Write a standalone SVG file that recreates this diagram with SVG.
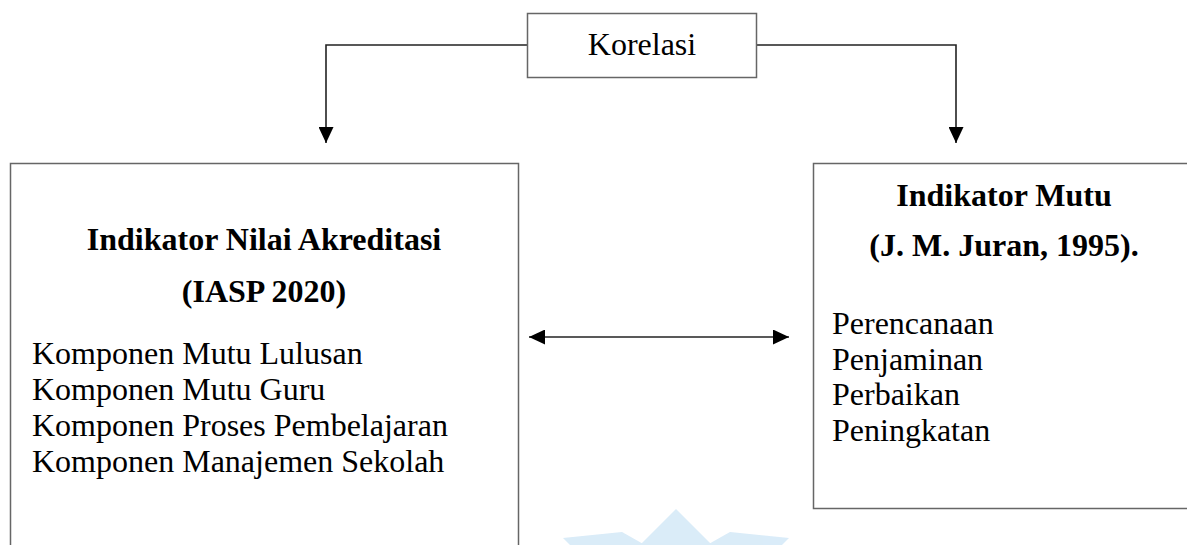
<svg xmlns="http://www.w3.org/2000/svg" width="1187" height="545" viewBox="0 0 1187 545">
<style>
  text { font-family: "Liberation Serif", "Times New Roman", serif; font-size: 32px; fill: #000; }
  .b { font-weight: bold; }
  .c { text-anchor: middle; }
  .box { fill: #fff; stroke: #666; stroke-width: 1.5; }
  .conn { fill: none; stroke: #222; stroke-width: 1.6; }
</style>
<defs>
  <marker id="ah" markerUnits="userSpaceOnUse" markerWidth="17" markerHeight="15" refX="16" refY="7.5" orient="auto-start-reverse">
    <path d="M0,0 L16,7.5 L0,15 z" fill="#000"/>
  </marker>
</defs>
<g id="watermark" fill="#d6eaf8" opacity="0.9">
  <polygon points="676,509 640,545 712,545"/>
  <polygon points="563,538 622,532 645,545 570,545"/>
  <polygon points="789,538 730,532 707,545 782,545"/>
</g>
<g id="connectors">
  <polyline class="conn" points="527,45 326,45 326,143" marker-end="url(#ah)"/>
  <polyline class="conn" points="757,45 956,45 956,143" marker-end="url(#ah)"/>
  <line class="conn" x1="529" y1="337" x2="789" y2="337" marker-start="url(#ah)" marker-end="url(#ah)"/>
</g>
<g id="korelasi">
  <rect class="box" x="527.5" y="13.5" width="229" height="64"/>
  <text class="c" x="642" y="55">Korelasi</text>
</g>
<g id="akreditasi">
  <rect class="box" x="10.5" y="163.5" width="508" height="400"/>
  <text class="b c" x="264" y="250">Indikator Nilai Akreditasi</text>
  <text class="b c" x="264" y="302">(IASP 2020)</text>
  <text x="32" y="364">Komponen Mutu Lulusan</text>
  <text x="32" y="400">Komponen Mutu Guru</text>
  <text x="32" y="436">Komponen Proses Pembelajaran</text>
  <text x="32" y="472">Komponen Manajemen Sekolah</text>
</g>
<g id="mutu">
  <rect class="box" x="813.5" y="163.5" width="390" height="345"/>
  <text class="b c" x="1004" y="206">Indikator Mutu</text>
  <text class="b c" x="1004" y="256">(J. M. Juran, 1995).</text>
  <text x="832" y="334">Perencanaan</text>
  <text x="832" y="370">Penjaminan</text>
  <text x="832" y="405">Perbaikan</text>
  <text x="832" y="441">Peningkatan</text>
</g>
</svg>
